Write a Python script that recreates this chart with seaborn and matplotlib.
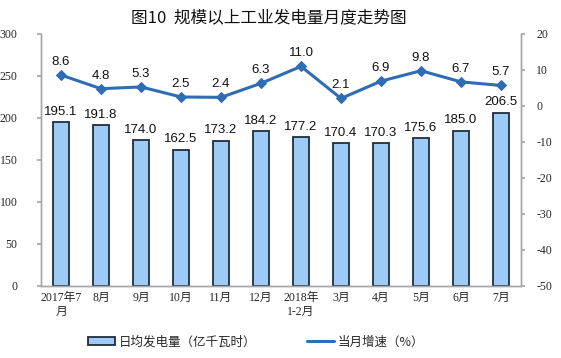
import matplotlib
matplotlib.use("Agg")
import matplotlib.pyplot as plt
import seaborn as sns
import pandas as pd
import numpy as np
from matplotlib.patches import Patch
from matplotlib.lines import Line2D

sns.set_theme(style="white")
plt.rcParams['font.family'] = ['Liberation Sans', 'Noto Sans CJK SC', 'DejaVu Sans']
plt.rcParams['axes.unicode_minus'] = False

months = ["2017年7\n月", "8月", "9月", "10月", "11月", "12月", "2018年\n1-2月",
          "3月", "4月", "5月", "6月", "7月"]
daily_output = [195.1, 191.8, 174.0, 162.5, 173.2, 184.2, 177.2, 170.4, 170.3, 175.6, 185.0, 206.5]
growth = [8.6, 4.8, 5.3, 2.5, 2.4, 6.3, 11.0, 2.1, 6.9, 9.8, 6.7, 5.7]

df = pd.DataFrame({"month": months, "output": daily_output, "growth": growth})

W, H = 561, 358
fig = plt.figure(figsize=(W / 100, H / 100), dpi=100)
ax = fig.add_axes([41 / W, 1 - 286 / H, 480 / W, 252 / H])

bar_fill = "#9DCBF5"
bar_edge = "#1F2D3D"
line_col = "#2E6DB4"
spine_col = "#A6A6A6"
serif = ['Liberation Serif', 'Noto Sans CJK SC']
cjk = ['Noto Sans CJK SC', 'DejaVu Sans']

sns.barplot(data=df, x="month", y="output", ax=ax, color=bar_fill, width=0.4,
            edgecolor=bar_edge, linewidth=1.3, saturation=1)
ax.set_xlim(-0.5, 11.5)
ax.set_ylim(0, 300)
ax.set_yticks(np.arange(0, 301, 50))
ax.set_xlabel("")
ax.set_ylabel("")

for i, v in enumerate(daily_output):
    ax.text(i, v + 5, f"{v:.1f}", ha="center", va="bottom", fontsize=9.5,
            family=['Liberation Sans'], color="#111111")

ax2 = ax.twinx()
sns.lineplot(x=np.arange(len(growth)), y=growth, ax=ax2, color=line_col, linewidth=2.2,
             marker="D", markersize=5.5, markeredgecolor=line_col)
ax2.set_ylim(-50, 20)
ax2.set_yticks(np.arange(-50, 21, 10))
for i, v in enumerate(growth):
    ax2.text(i, v + 2.0, f"{v:.1f}", ha="center", va="bottom", fontsize=9.5,
             family=['Liberation Sans'], color="#111111")

for a in (ax, ax2):
    for s in a.spines.values():
        s.set_color(spine_col)
        s.set_linewidth(1.0)
    a.spines["top"].set_visible(False)

ax.tick_params(axis="y", direction="out", length=3, color=spine_col, labelsize=8.5, pad=14)
ax2.tick_params(axis="y", direction="out", length=3, color=spine_col, labelsize=8.5, pad=8)
for lab in ax.get_yticklabels() + ax2.get_yticklabels():
    lab.set_family(serif)

ax.set_xticks(np.arange(12))
ax.set_xticklabels(months, fontsize=8.5)
for lab in ax.get_xticklabels():
    lab.set_family(serif)
    lab.set_linespacing(1.3)
ax.tick_params(axis="x", which="major", length=0, pad=4)
ax.set_xticks(np.arange(-0.5, 12, 1), minor=True)
ax.tick_params(axis="x", which="minor", direction="in", length=3, color=spine_col)

fig.text(269 / W, 1 - 18 / H, "图10  规模以上工业发电量月度走势图", ha="center", va="center",
         fontsize=12, family=cjk, color="#111111")

handles = [Patch(facecolor=bar_fill, edgecolor=bar_edge, linewidth=1.3),
           Line2D([0], [0], color=line_col, linewidth=2.2)]
labels = ["日均发电量（亿千瓦时）", "当月增速（%）"]
leg = fig.legend(handles, labels, loc="center", bbox_to_anchor=(256 / W, 1 - 342 / H),
                 ncol=2, frameon=False, prop={'family': cjk, 'size': 9},
                 handlelength=2.2, handleheight=0.6, columnspacing=4, handletextpad=0.3)

fig.savefig("out.png", dpi=100)
